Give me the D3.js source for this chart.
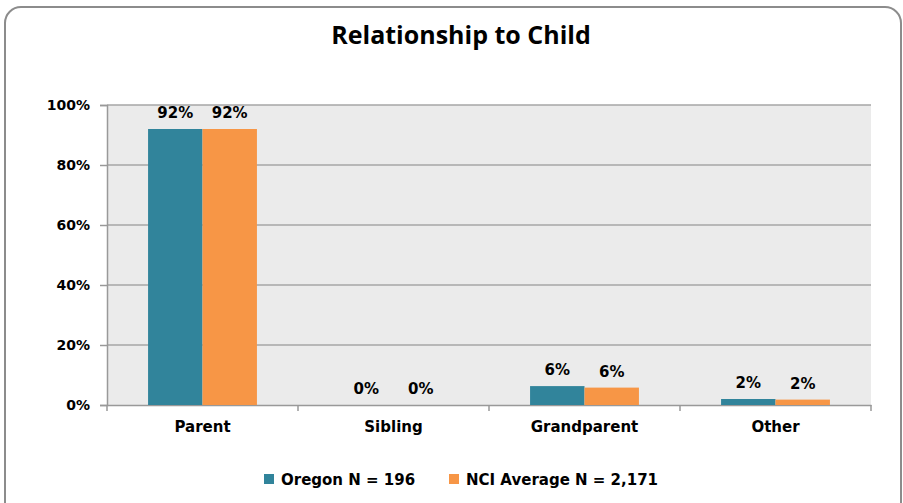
<!DOCTYPE html>
<html><head><meta charset="utf-8">
<script src="https://cdn.jsdelivr.net/npm/d3@7/dist/d3.min.js"></script>
<style>body{margin:0;background:#fff}svg{display:block}</style>
</head><body>
<script>
const categories = ["Parent","Sibling","Grandparent","Other"];
const seriesNames = ["Oregon N = 196","NCI Average N = 2,171"];
const oregon = [0.92, 0.00, 0.063, 0.02];
const nci = [0.92, 0.00, 0.058, 0.018];
const labelsOregon = ["92%","0%","6%","2%"];
const labelsNci = ["92%","0%","6%","2%"];
const yTicks = [0,0.2,0.4,0.6,0.8,1.0];
const colors = ["#31849B","#F79646"];

(function(){
const W=903,H=503;
const svg=d3.select("body").append("svg").attr("width",W).attr("height",H);
svg.append("rect").attr("x",5).attr("y",7).attr("width",896).attr("height",520).attr("rx",16)
  .attr("fill","#fff").attr("stroke","#8c8c8c").attr("stroke-width",2);

const pL=107,pR=871,pT=105,pB=405;
const x=d3.scaleBand().domain(categories).range([pL,pR]).paddingInner(0.43).paddingOuter(0.215);
const x1=d3.scaleBand().domain([0,1]).range([0,x.bandwidth()]);
const y=d3.scaleLinear().domain([0,1]).range([pB,pT]);

svg.append("rect").attr("x",pL).attr("y",pT).attr("width",pR-pL).attr("height",pB-pT).attr("fill","#EBEBEB");
svg.append("g").selectAll("line").data(yTicks.filter(d=>d>0)).join("line")
  .attr("x1",pL).attr("x2",pR).attr("y1",d=>y(d)).attr("y2",d=>y(d))
  .attr("stroke","#a6a6a6").attr("stroke-width",1.5);

svg.append("text").attr("x",461).attr("y",44).attr("text-anchor","middle")
  .style("font","bold 25px 'Open Sans', sans-serif").attr("fill","#000").text("Relationship to Child");

const yAxis=svg.append("g").attr("transform",`translate(${pL},0)`)
  .call(d3.axisLeft(y).tickValues(yTicks).tickFormat(d3.format(".0%")).tickSize(7).tickPadding(10));
yAxis.select(".domain").attr("stroke","#999").attr("stroke-width",1.5);
yAxis.selectAll(".tick line").attr("stroke","#999").attr("stroke-width",1.5);
yAxis.selectAll("text").style("font","bold 14px 'DejaVu Sans', sans-serif").attr("fill","#000");

const xAxis=svg.append("g").attr("transform",`translate(0,${pB})`)
  .call(d3.axisBottom(x).tickSize(0).tickPadding(16));
xAxis.select(".domain").attr("stroke","#999").attr("stroke-width",1.5);
xAxis.selectAll("text").style("font","bold 15px 'DejaVu Sans', sans-serif").attr("fill","#000");
const step=x.step();
svg.append("g").selectAll("line").data(d3.range(categories.length+1)).join("line")
  .attr("x1",i=>pL+i*step).attr("x2",i=>pL+i*step).attr("y1",pB).attr("y2",pB+6)
  .attr("stroke","#999").attr("stroke-width",1.5);

const series=[oregon,nci];
const labs=[labelsOregon,labelsNci];
series.forEach((vals,s)=>{
  svg.append("g").selectAll("rect").data(vals).join("rect")
    .attr("x",(d,i)=>x(categories[i])+x1(s)).attr("width",x1.bandwidth())
    .attr("y",d=>y(d)).attr("height",d=>pB-y(d)).attr("fill",colors[s]);
  svg.append("g").selectAll("text").data(vals).join("text")
    .attr("x",(d,i)=>x(categories[i])+x1(s)+x1.bandwidth()/2)
    .attr("y",d=>y(d)-11).attr("text-anchor","middle")
    .style("font","bold 15px 'DejaVu Sans', sans-serif").attr("fill","#000")
    .text((d,i)=>labs[s][i]);
});

const leg=svg.append("g");
const lx=[264,449];
seriesNames.forEach((n,s)=>{
  leg.append("rect").attr("x",lx[s]).attr("y",474).attr("width",10).attr("height",10).attr("fill",colors[s]);
  leg.append("text").attr("x",lx[s]+17).attr("y",484.5)
    .style("font","bold 15px 'DejaVu Sans', sans-serif").attr("fill","#000").text(n);
});
})();
</script>
</body></html>
